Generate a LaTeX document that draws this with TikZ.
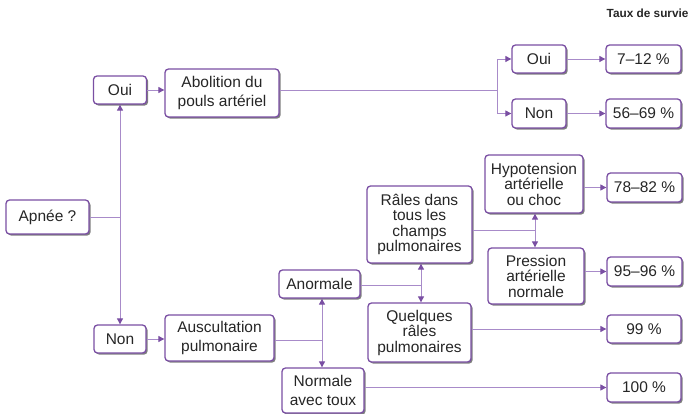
\documentclass[tikz,border=0pt]{standalone}
\usepackage{fontspec}
\setmainfont{Liberation Sans}
\usetikzlibrary{arrows.meta,shadows}
\definecolor{boxc}{HTML}{7A4FA3}
\definecolor{linec}{HTML}{A88BC9}
\definecolor{shadowc}{HTML}{808080}
\begin{document}
\begin{tikzpicture}[x=1pt,y=-1pt,
  box/.style={draw=boxc, line width=1.3pt, rounded corners=3.5pt, fill=white,
    align=center, inner sep=0pt, text=black!85,
    font=\fontsize{15.5}{19}\selectfont,
    drop shadow={shadow xshift=1.6pt, shadow yshift=-1.6pt, fill=shadowc, opacity=1}},
  tight/.style={font=\fontsize{15.5}{15.5}\selectfont},
  link/.style={draw=linec, line width=0.9pt},
  arr/.style={link, -{Triangle[length=6pt,width=6pt,color=boxc]}},
]
\useasboundingbox (0,0) rectangle (699,414);

% heading of the outcome column
\node[font=\bfseries\fontsize{11.8}{14}\selectfont, anchor=base east, text=black!85]
  (title) at (692,18) {Taux de survie};

% decision boxes
\node[box, minimum width=83pt, minimum height=34pt] (apnee) at (47.5,217) {Apnée ?};
\node[box, minimum width=53pt, minimum height=28pt] (oui1) at (120,90) {Oui};
\node[box, minimum width=114pt, minimum height=48pt] (abol) at (222,93) {Abolition du\\pouls artériel};
\node[box, minimum width=54pt, minimum height=28pt] (oui2) at (539,59) {Oui};
\node[box, minimum width=54pt, minimum height=29pt] (non2) at (539,113.5) {Non};
\node[box, minimum width=52pt, minimum height=28pt] (non1) at (120,339) {Non};
\node[box, minimum width=109pt, minimum height=46pt] (ausc) at (219.5,338) {Auscultation\\pulmonaire};
\node[box, minimum width=81pt, minimum height=28pt] (anor) at (319.5,284) {Anormale};
\node[box, minimum width=82pt, minimum height=45pt] (norm) at (323,390.5) {Normale\\avec toux};
\node[box, tight, minimum width=105pt, minimum height=77pt] (rales) at (419.5,224.5) {Râles dans\\tous les\\champs\\pulmonaires};
\node[box, tight, minimum width=103pt, minimum height=59pt] (quel) at (419.5,332.5) {Quelques\\râles\\pulmonaires};
\node[box, tight, minimum width=98pt, minimum height=58pt] (hypo) at (534,184) {Hypotension\\artérielle\\ou choc};
\node[box, tight, minimum width=96pt, minimum height=56pt] (pres) at (536,276) {Pression\\artérielle\\normale};

% survival rates
\node[box, minimum width=75pt, minimum height=28pt] (p1) at (643.5,59) {7–12 \%};
\node[box, minimum width=75pt, minimum height=29pt] (p2) at (643.5,113.5) {56–69 \%};
\node[box, minimum width=75pt, minimum height=29pt] (p3) at (644.5,187.5) {78–82 \%};
\node[box, minimum width=75pt, minimum height=29pt] (p4) at (644.5,271.5) {95–96 \%};
\node[box, minimum width=74pt, minimum height=28pt] (p5) at (644,329) {99 \%};
\node[box, minimum width=74pt, minimum height=29pt] (p6) at (644,387.5) {100 \%};

% junction points of the branching lines
\coordinate (j0) at (120,217);
\coordinate (b1) at (497,90);
\coordinate (j1) at (322,340);
\coordinate (j2) at (421,285);
\coordinate (j3) at (535,230);

% apnoea: yes / no
\draw[link] (apnee.east) -- (j0);
\draw[arr] (j0) -- (oui1.south);
\draw[arr] (j0) -- (non1.north);

% yes branch
\draw[arr] (oui1.east) -- (oui1.east -| abol.west);
\draw[link] (abol.east |- b1) -- (b1);
\draw[arr] (b1) |- (oui2.west);
\draw[arr] (b1) |- (non2.west);
\draw[arr] (oui2.east) -- (p1.west);
\draw[arr] (non2.east) -- (p2.west);

% no branch
\draw[arr] (non1.east) -- (non1.east -| ausc.west);
\draw[link] (ausc.east |- j1) -- (j1);
\draw[arr] (j1) -- (j1 |- anor.south);
\draw[arr] (j1) -- (j1 |- norm.north);
\draw[link] (anor.east |- j2) -- (j2);
\draw[arr] (j2) -- (j2 |- rales.south);
\draw[arr] (j2) -- (j2 |- quel.north);
\draw[link] (rales.east |- j3) -- (j3);
\draw[arr] (j3) -- (j3 |- hypo.south);
\draw[arr] (j3) -- (j3 |- pres.north);

% outcomes
\draw[arr] (hypo.east |- p3.west) -- (p3.west);
\draw[arr] (pres.east |- p4.west) -- (p4.west);
\draw[arr] (quel.east |- p5.west) -- (p5.west);
\draw[arr] (norm.east |- p6.west) -- (p6.west);
\end{tikzpicture}
\end{document}
